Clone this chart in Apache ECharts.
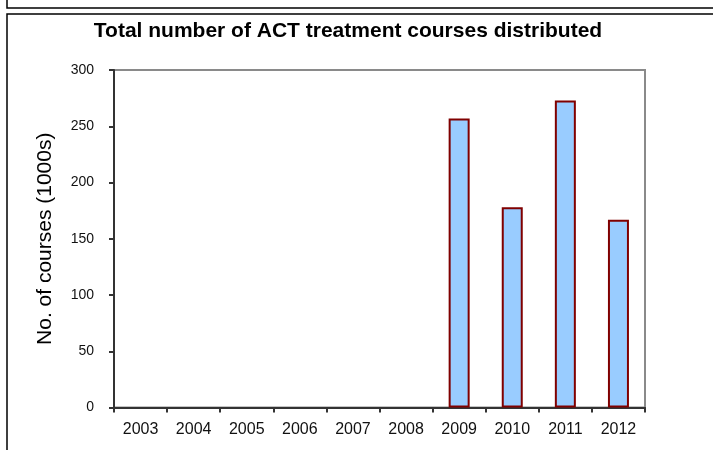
<!DOCTYPE html>
<html>
<head>
<meta charset="utf-8">
<script src="https://cdn.jsdelivr.net/npm/echarts@6/dist/echarts.min.js"></script>
<style>
html,body{margin:0;padding:0;background:#fff;}
#chart{width:713px;height:450px;}
</style>
</head>
<body>
<div id="chart"></div>
<script>
const titleText = 'Total number of ACT treatment courses distributed';
const yAxisTitle = 'No. of courses (1000s)';
const years = ['2003','2004','2005','2006','2007','2008','2009','2010','2011','2012'];
const courses = [null, null, null, null, null, null, 257, 178, 273, 167];
const yTicks = [0, 50, 100, 150, 200, 250, 300];

const chart = echarts.init(document.getElementById('chart'), null, {renderer:'canvas'});
const font = '"Liberation Sans", Arial, sans-serif';
chart.setOption({
  animation: false,
  backgroundColor: '#fff',
  title: {
    text: titleText,
    left: 343, top: 16, textAlign: 'center',
    textStyle: {fontFamily: font, fontWeight: 'bold', fontSize: 21, color: '#000'}
  },
  grid: {
    left: 114, right: 68, top: 70, bottom: 42.5,
    show: true, borderColor: '#8a8a8a', borderWidth: 2, backgroundColor: '#fff'
  },
  xAxis: {
    type: 'category',
    data: years,
    boundaryGap: true,
    axisLine: {lineStyle: {color: '#333', width: 2}},
    axisTick: {show: true, alignWithLabel: false, length: 5, lineStyle: {color: '#333', width: 2}},
    axisLabel: {fontFamily: font, fontSize: 16, color: '#111', margin: 14, interval: 0},
    splitLine: {show: false}
  },
  yAxis: {
    type: 'value',
    min: yTicks[0], max: yTicks[yTicks.length-1], interval: 50,
    name: yAxisTitle,
    nameLocation: 'middle',
    nameGap: 58,
    nameRotate: 90,
    nameTextStyle: {fontFamily: font, fontSize: 21, color: '#000'},
    axisLine: {show: true, lineStyle: {color: '#333', width: 2}},
    axisTick: {show: true, length: 5, lineStyle: {color: '#333', width: 2}},
    axisLabel: {fontFamily: font, fontSize: 14, color: '#111', margin: 20},
    splitLine: {show: false}
  },
  series: [{
    type: 'bar',
    data: courses,
    barWidth: 21,
    itemStyle: {color: '#99ccff', borderColor: '#800000', borderWidth: 2}
  }],
  graphic: [
    {type: 'polyline', shape: {points: [[7,0],[7,8],[713,8]]}, style: {stroke: '#000', lineWidth: 1.5, fill: null}},
    {type: 'polyline', shape: {points: [[7,450],[7,14],[713,14]]}, style: {stroke: '#000', lineWidth: 1.5, fill: null}}
  ]
});
</script>
</body>
</html>
